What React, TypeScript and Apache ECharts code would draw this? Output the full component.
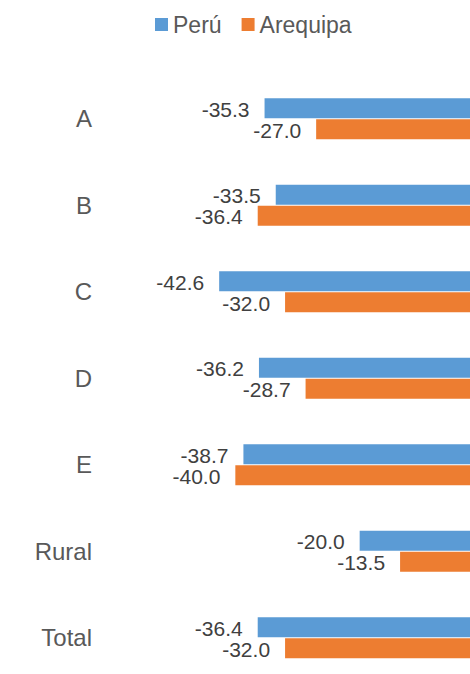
import React, { useEffect, useRef } from "react";
import * as echarts from "echarts";

const categories = ["A", "B", "C", "D", "E", "Rural", "Total"];
const peru = [-35.3, -33.5, -42.6, -36.2, -38.7, -20.0, -36.4];
const arequipa = [-27.0, -36.4, -32.0, -28.7, -40.0, -13.5, -32.0];
const seriesNames = ["Perú", "Arequipa"];

const FONT = "'Liberation Sans', Arial, sans-serif";

export default function App() {
  const ref = useRef<HTMLDivElement>(null);
  useEffect(() => {
    if (!ref.current) return;
    const chart = echarts.init(ref.current, undefined, { renderer: "svg" });
    const label = {
      show: true,
      position: "left" as const,
      distance: 15,
      offset: [0, 1],
      color: "#404040",
      fontSize: 21,
      fontFamily: FONT,
      formatter: (p: any) => Number(p.value).toFixed(1),
    };
    chart.setOption({
      animation: false,
      backgroundColor: "#ffffff",
      legend: {
        top: 8,
        left: 150,
        itemWidth: 13,
        itemHeight: 13,
        itemGap: 20,
        icon: "rect",
        textStyle: { color: "#595959", fontSize: 23, fontFamily: FONT },
        data: seriesNames,
      },
      grid: { left: 111, right: 0, top: 75.5, bottom: 0, containLabel: false },
      xAxis: {
        type: "value",
        min: -60,
        max: 0,
        show: false,
        splitLine: { show: false },
      },
      yAxis: {
        type: "category",
        data: categories,
        inverse: true,
        axisLine: { show: false },
        axisTick: { show: false },
        axisLabel: {
          color: "#595959",
          fontSize: 24,
          fontFamily: FONT,
          margin: 19,
          align: "right",
        },
      },
      series: [
        {
          name: seriesNames[0],
          type: "bar",
          data: peru,
          barWidth: 20,
          barGap: "5%",
          itemStyle: { color: "#5B9BD5" },
          label,
        },
        {
          name: seriesNames[1],
          type: "bar",
          data: arequipa,
          barWidth: 20,
          barGap: "5%",
          itemStyle: { color: "#ED7D31" },
          label,
        },
      ],
    });
    return () => chart.dispose();
  }, []);
  return (
    <div
      style={{
        position: "absolute",
        left: 0,
        top: 0,
        width: 470,
        height: 674,
        overflow: "hidden",
        background: "#ffffff",
      }}
    >
      <div ref={ref} style={{ width: 484, height: 681 }} />
    </div>
  );
}
